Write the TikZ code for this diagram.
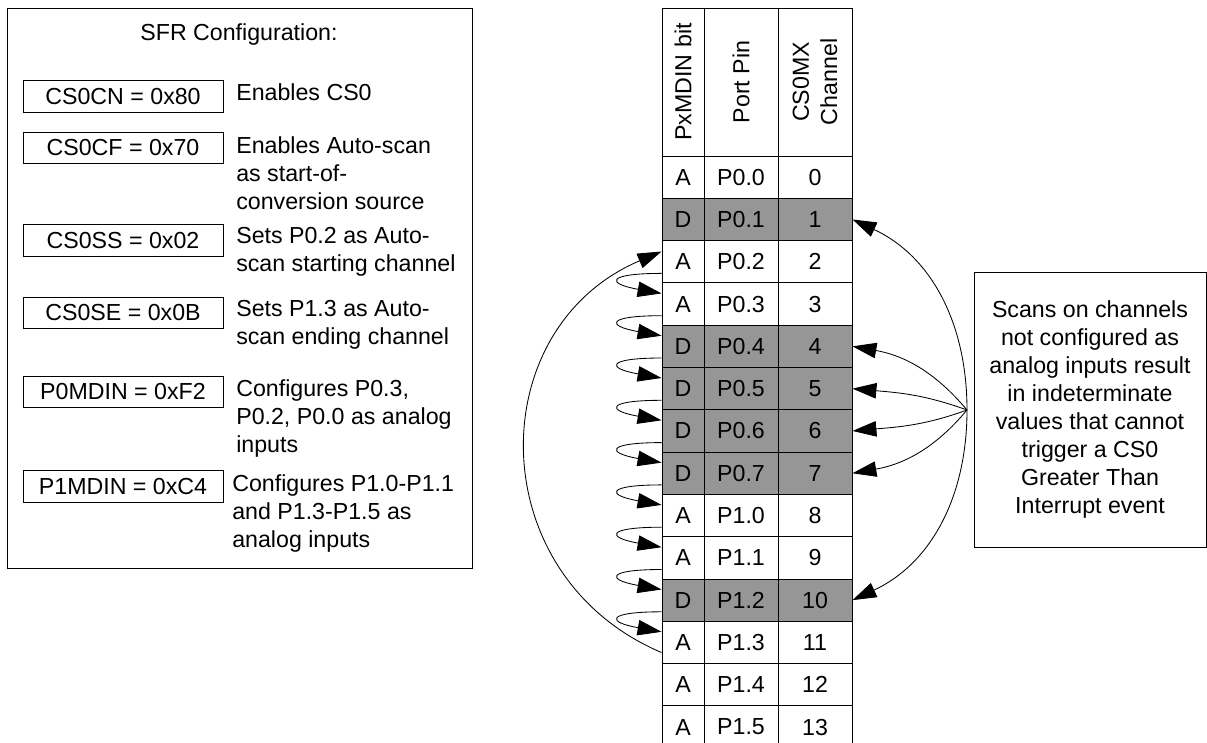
\documentclass[tikz,border=0pt]{standalone}
\usepackage{fontspec}
\setmainfont{Liberation Sans}
\usetikzlibrary{arrows.meta,positioning}
\definecolor{cellgrey}{HTML}{969696}

\begin{document}
\begin{tikzpicture}[every node/.style={font=\fontsize{16.5}{20}\selectfont},
  box/.style={draw,line width=0.7pt},
  reg/.style={box,minimum width=50mm,minimum height=7.9mm,inner sep=0pt},
  desc/.style={anchor=north west,align=left,inner sep=0pt},
  cell/.style={box,minimum height=10.575mm,inner sep=0pt},
  head/.style={box,rotate=90,minimum width=37mm,align=center,inner sep=0pt},
  scan/.style={-{Triangle[length=17pt,width=11pt]},line width=0.6pt}]
\useasboundingbox (0,0) rectangle (30.175,-18.55);

% SFR settings
\node[box,minimum width=116.25mm,minimum height=140mm] (sfr) at (5.99,-7.2) {};
\node (title) at (5.975,-0.85) {SFR Configuration:};
\node[reg] (cn) at (3.075,-2.41) {CS0CN = 0x80};
\node[reg] (cf) at (3.075,-3.7) {CS0CF = 0x70};
\node[reg] (ss) at (3.075,-6.01) {CS0SS = 0x02};
\node[reg] (se) at (3.075,-7.825) {CS0SE = 0x0B};
\node[reg] (p0) at (3.075,-9.8) {P0MDIN = 0xF2};
\node[reg] (p1) at (3.075,-12.16) {P1MDIN = 0xC4};
\node[desc] (cntext) at (5.9,-2.075) {Enables CS0};
\node[desc] (cftext) at (5.9,-3.4) {Enables Auto-scan\\as start-of-\\conversion source};
\node[desc] (sstext) at (5.9,-5.675) {Sets P0.2 as Auto-\\scan starting channel};
\node[desc] (setext) at (5.9,-7.5) {Sets P1.3 as Auto-\\scan ending channel};
\node[desc] (p0text) at (5.9,-9.475) {Configures P0.3,\\P0.2, P0.0 as analog\\inputs};
\node[desc] (p1text) at (5.8,-11.85) {Configures P1.0-P1.1\\and P1.3-P1.5 as\\analog inputs};

% pin table
\node[head,minimum height=10.5mm] (hbit) at (17.075,-2.05) {PxMDIN bit};
\node[head,minimum height=18.5mm] (hpin) at (18.525,-2.05) {Port Pin};
\node[head,minimum height=18.5mm] (hch) at (20.375,-2.05) {CS0MX\\Channel};
\foreach \bit/\pin/\tone [count=\i from 0] in {A/P0.0/white,D/P0.1/cellgrey,A/P0.2/white,
    A/P0.3/white,D/P0.4/cellgrey,D/P0.5/cellgrey,D/P0.6/cellgrey,D/P0.7/cellgrey,
    A/P1.0/white,A/P1.1/white,D/P1.2/cellgrey,A/P1.3/white,A/P1.4/white,A/P1.5/white} {
  \node[cell,fill=\tone,minimum width=10.5mm] (bit\i) at (17.075,{-4.42875-1.0575*\i}) {\bit};
  \node[cell,fill=\tone,minimum width=18.5mm] (pin\i) at (18.525,{-4.42875-1.0575*\i}) {\pin};
  \node[cell,fill=\tone,minimum width=18.5mm] (ch\i) at (20.375,{-4.42875-1.0575*\i}) {\i};
}

% auto-scan order
\foreach \a/\b in {2/3,3/4,4/5,5/6,6/7,7/8,8/9,9/10,10/11}
  \draw[scan] ([yshift=2.5mm]bit\a.south west) to[out=180,in=170,distance=14mm] ([yshift=-2.75mm]bit\b.north west);
\draw[scan] ([yshift=2.9mm]bit11.south west) to[out=157,in=203,distance=49mm] ([yshift=-2.85mm]bit2.north west);

% digital channels
\node[box,minimum width=58mm,minimum height=68.75mm,align=center] (note) at (27.25,-10.2375)
  {Scans on channels\\not configured as\\analog inputs result\\in indeterminate\\values that cannot\\trigger a CS0\\Greater Than\\Interrupt event};
\coordinate (src) at (24.175,-10.25);
\draw[scan] (src) to[out=90,in=-25] (ch1.east);
\draw[scan] (src) to[out=130,in=-10] (ch4.east);
\draw[scan] (src) to[out=160,in=-5] (ch5.east);
\draw[scan] (src) to[out=-160,in=5] (ch6.east);
\draw[scan] (src) to[out=-130,in=10] (ch7.east);
\draw[scan] (src) to[out=-90,in=25] (ch10.east);
\end{tikzpicture}
\end{document}
